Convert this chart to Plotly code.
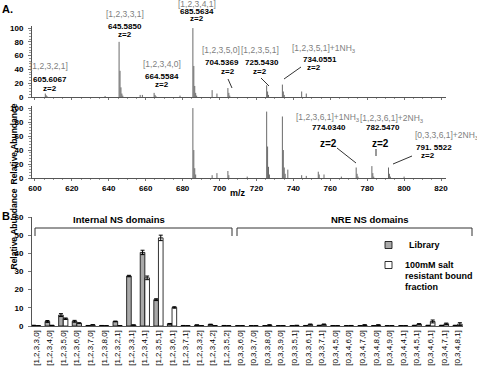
import plotly.graph_objects as go

W, H = 477, 366
def X(p): return p / W
def Y(p): return 1 - p / H

# ---------------- Data ----------------
# Spectrum A (top): m/z and relative abundance
spec1_mz = [605.61, 606.11, 606.61, 638.0, 645.585, 646.09, 646.59, 647.09, 647.6,
            657.0, 658.2, 664.558, 665.06, 665.56, 678.6, 685.563, 686.07, 686.57,
            687.07, 687.6, 696.0, 698.6, 704.537, 705.04, 705.54, 725.543, 726.04,
            726.54, 734.055, 734.56, 735.06, 744.5, 747.0]
spec1_int = [5, 2.5, 1, 1.5, 80, 38, 14, 5, 2,
             3, 3, 6, 3, 1.2, 2, 100, 45, 16,
             6, 2, 10, 5, 13, 6, 2, 17, 8,
             3, 18, 8, 3, 8, 5]

# Spectrum A (bottom)
spec2_mz = [685.563, 686.07, 686.57, 687.07, 696.0, 698.6, 704.537, 705.04,
            715.0, 725.543, 726.04, 726.54, 727.05, 734.055, 734.56, 735.06,
            735.56, 737.0, 744.5, 747.0, 753.5, 754.0, 756.6, 766.0,
            774.034, 774.53, 775.03, 782.547, 783.05, 783.55, 791.552, 792.05, 792.55, 800.0]
spec2_int = [100, 40, 14, 5, 4, 7, 10, 4,
             2, 95, 45, 16, 5, 88, 40, 15,
             6, 12, 4, 3, 9, 5, 5, 2,
             15, 6, 2, 17, 7, 2, 15, 6, 2, 2]

# Panel B
categories = ["[1,2,3,3,0]", "[1,2,3,4,0]", "[1,2,3,5,0]", "[1,2,3,6,0]", "[1,2,3,7,0]",
              "[1,2,3,8,0]", "[1,2,3,2,1]", "[1,2,3,3,1]", "[1,2,3,4,1]", "[1,2,3,5,1]",
              "[1,2,3,6,1]", "[1,2,3,7,1]", "[1,2,3,3,2]", "[1,2,3,4,2]", "[1,2,3,5,2]",
              "[0,3,3,6,0]", "[0,3,3,7,0]", "[0,3,3,8,0]", "[0,3,3,9,0]", "[0,3,3,5,1]",
              "[0,3,3,6,1]", "[0,3,3,7,1]", "[0,3,4,5,0]", "[0,3,4,6,0]", "[0,3,4,7,0]",
              "[0,3,4,8,0]", "[0,3,4,9,0]", "[0,3,4,4,1]", "[0,3,4,5,1]", "[0,3,4,6,1]",
              "[0,3,4,7,1]", "[0,3,4,8,1]"]
library = [0.3, 2.5, 6.0, 2.6, 0.2, 0.2, 2.5, 27.5, 40.5, 14.5,
           1.2, 0.2, 0.5, 0.8, 0.2,
           0.1, 0.1, 0.1, 0.1, 0.1, 0.2, 0.3, 0.1, 0.1, 0.1,
           0.1, 0.1, 0.1, 0.3, 0.3, 0.3, 0.3]
library_err = [0.1, 0.5, 0.8, 0.5, 0.1, 0.1, 0.2, 0.4, 1.2, 0.5,
               0.2, 0.1, 0.1, 0.2, 0.1,
               0.05, 0.05, 0.05, 0.05, 0.05, 0.1, 0.1, 0.05, 0.05, 0.05,
               0.05, 0.05, 0.05, 0.1, 0.1, 0.1, 0.1]
bound = [0.1, 0.3, 4.0, 1.5, 0.6, 0.1, 0.1, 0.5, 26.5, 48.5,
         10.2, 0.1, 0.1, 0.1, 0.1,
         0.1, 0.1, 0.5, 0.1, 0.3, 0.8, 0.8, 0.1, 0.2, 0.5,
         0.5, 0.1, 0.1, 1.0, 2.5, 1.2, 1.0]
bound_err = [0.05, 0.1, 0.4, 0.3, 0.1, 0.05, 0.05, 0.1, 1.0, 1.5,
             0.4, 0.05, 0.05, 0.05, 0.05,
             0.05, 0.05, 0.2, 0.05, 0.1, 0.3, 0.3, 0.05, 0.1, 0.2,
             0.2, 0.05, 0.05, 0.3, 0.8, 0.4, 0.8]

# ---------------- Figure ----------------
def sticks(mz, inten):
    xs, ys = [], []
    for m, v in zip(mz, inten):
        xs += [m, m, None]
        ys += [0, v, None]
    return xs, ys

fig = go.Figure()
PEAK = "#6a6a6a"
x1, y1 = sticks(spec1_mz, spec1_int)
fig.add_trace(go.Scatter(x=x1, y=y1, mode="lines", line=dict(color=PEAK, width=1),
                         xaxis="x", yaxis="y", showlegend=False, hoverinfo="skip"))
x2, y2 = sticks(spec2_mz, spec2_int)
fig.add_trace(go.Scatter(x=x2, y=y2, mode="lines", line=dict(color=PEAK, width=1),
                         xaxis="x2", yaxis="y2", showlegend=False, hoverinfo="skip"))

fig.add_trace(go.Bar(x=categories, y=library, name="Library",
                     marker=dict(color="#a9a9a9", line=dict(color="black", width=0.8)),
                     error_y=dict(type="data", array=library_err, color="black", thickness=1, width=2),
                     xaxis="x3", yaxis="y3", showlegend=False))
fig.add_trace(go.Bar(x=categories, y=bound, name="100mM salt resistant bound fraction",
                     marker=dict(color="white", line=dict(color="black", width=0.8)),
                     error_y=dict(type="data", array=bound_err, color="black", thickness=1, width=2),
                     xaxis="x3", yaxis="y3", showlegend=False))

FONT = "Liberation Sans, Arial, sans-serif"
tickfont_b = dict(family=FONT, size=8, color="black", weight="bold")
axcommon = dict(showline=True, linecolor="#555", linewidth=1, showgrid=False, zeroline=False,
                automargin=False)

xd = [X(32), X(446)]
xr = [598.4, 822.7]
fig.update_layout(
    width=W, height=H, margin=dict(l=0, r=0, t=0, b=0, pad=0),
    paper_bgcolor="white", plot_bgcolor="white",
    barmode="group", bargap=0.32, bargroupgap=0.0,
    font=dict(family=FONT, color="black"),
    xaxis=dict(domain=xd, range=xr, anchor="y", showticklabels=False, ticks="outside",
               ticklen=2, dtick=20, tick0=600, tickcolor="#777",
               minor=dict(ticks="outside", dtick=5, ticklen=1, tickcolor="#999"), **axcommon),
    yaxis=dict(domain=[Y(97), Y(26)], range=[0, 103], anchor="x", tickvals=[0, 20, 40, 60, 80, 100],
               ticks="outside", ticklen=3, tickcolor="#777", tickfont=tickfont_b, ticklabelstandoff=3,
               minor=dict(ticks="outside", dtick=4, ticklen=2, tickcolor="#999"), **axcommon),
    xaxis2=dict(domain=xd, range=xr, anchor="y2", ticks="outside", ticklen=2, dtick=20, tick0=600,
                tickcolor="#777", tickfont=tickfont_b,
                minor=dict(ticks="outside", dtick=5, ticklen=1, tickcolor="#999"), **axcommon),
    yaxis2=dict(domain=[Y(178), Y(106)], range=[0, 103], anchor="x2", tickvals=[0, 20, 40, 60, 80, 100],
                ticks="outside", ticklen=3, tickcolor="#777", tickfont=tickfont_b, ticklabelstandoff=3,
                minor=dict(ticks="outside", dtick=4, ticklen=2, tickcolor="#999"), **axcommon),
    xaxis3=dict(domain=[X(32), X(463)], range=[-0.3, 31.4], anchor="y3", type="category",
                tickangle=-90, ticks="", tickfont=dict(family=FONT, size=8, color="black"), **axcommon),
    yaxis3=dict(domain=[Y(326), Y(217)], range=[0, 60], anchor="x3", dtick=10,
                ticks="outside", ticklen=3, tickcolor="#777", tickfont=tickfont_b, ticklabelstandoff=3,
                **axcommon),
)

GRAY = "#808080"
ann = []
def txt(x, y, t, size=8, color="black", bold=True, xanchor="center"):
    ann.append(dict(x=X(x), y=Y(y), xref="paper", yref="paper", text=t, showarrow=False,
                    xanchor=xanchor, yanchor="middle",
                    font=dict(family=FONT, size=size, color=color, weight="bold" if bold else "normal")))

txt(0, 9, "A.", size=11, xanchor="left")
txt(0, 216, "B.", size=11, xanchor="left")
ann.append(dict(x=X(6), y=Y(102), xref="paper", yref="paper", text="Relative Abundance", textangle=-90,
                showarrow=False, font=dict(family=FONT, size=8.5, color="black", weight="bold")))
ann.append(dict(x=X(6), y=Y(272), xref="paper", yref="paper", text="Relative Abundance", textangle=-90,
                showarrow=False, font=dict(family=FONT, size=8.5, color="black", weight="bold")))
txt(238, 193, "m/z", size=9)

# top spectrum labels
txt(49, 66, "[1,2,3,2,1]", 8.5, GRAY, False); txt(50, 79, "605.6067"); txt(50, 88, "z=2")
txt(125, 14, "[1,2,3,3,1]", 8.5, GRAY, False); txt(125, 27, "645.5850"); txt(125, 34, "z=2")
txt(197, 4, "[1,2,3,4,1]", 8.5, GRAY, False); txt(197, 11, "685.5634"); txt(197, 18, "z=2")
txt(162, 64, "[1,2,3,4,0]", 8.5, GRAY, False); txt(162, 76, "664.5584"); txt(162, 84, "z=2")
txt(221, 50, "[1,2,3,5,0]", 8.5, GRAY, False); txt(222, 63, "704.5369"); txt(228, 71, "z=2")
txt(260, 50, "[1,2,3,5,1]", 8.5, GRAY, False); txt(262, 63, "725.5430"); txt(260, 71, "z=2")
txt(324, 48, "[1,2,3,5,1]+1NH<sub>3</sub>", 8.5, GRAY, False); txt(320, 60, "734.0551"); txt(314, 67, "z=2")
# bottom spectrum labels
txt(328, 117, "[1,2,3,6,1]+1NH<sub>3</sub>", 8.5, GRAY, False); txt(329, 127, "774.0340"); txt(328, 143, "z=2", 10)
txt(392, 118, "[1,2,3,6,1]+2NH<sub>3</sub>", 8.5, GRAY, False); txt(383, 127, "782.5470"); txt(380, 143, "z=2", 10)
txt(447, 135, "[0,3,3,6,1]+2NH<sub>3</sub>", 8.5, GRAY, False); txt(434, 147, "791. 5522"); txt(428, 155, "z=2")

# panel B labels
txt(119, 219, "Internal NS domains", 9.5)
txt(370, 219, "NRE NS domains", 9.5)
txt(407, 245, "Library", 9, xanchor="left")
txt(403, 265, "100mM salt", 9, xanchor="left")
txt(403, 276, "resistant bound", 9, xanchor="left")
txt(403, 287, "fraction", 9, xanchor="left")
fig.update_layout(annotations=ann)

shapes = []
def line(xa, ya, xb, yb, color="#333", w=1):
    shapes.append(dict(type="line", xref="paper", yref="paper", x0=X(xa), y0=Y(ya), x1=X(xb), y1=Y(yb),
                       line=dict(color=color, width=w)))
line(228, 79, 232, 88)
line(261, 78, 269, 86)
line(301, 67, 284, 79)
line(337, 148, 356, 163)
line(376, 149, 376, 156, "#999", 2)
line(412, 156, 393, 164)
# brackets
for a, b in [(35, 232), (237, 472)]:
    line(a, 228, b, 228)
    line(a, 228, a, 236)
    line(b, 228, b, 236)
# legend boxes
shapes.append(dict(type="rect", xref="paper", yref="paper", x0=X(385), x1=X(392), y0=Y(248.5), y1=Y(241.5),
                   fillcolor="#a9a9a9", line=dict(color="black", width=0.8)))
shapes.append(dict(type="rect", xref="paper", yref="paper", x0=X(385), x1=X(392), y0=Y(268.5), y1=Y(261.5),
                   fillcolor="white", line=dict(color="black", width=0.8)))
fig.update_layout(shapes=shapes)

fig.write_html("out.html", config={"displayModeBar": False},
               post_script="document.body.style.margin='0';document.body.style.padding='0';")
